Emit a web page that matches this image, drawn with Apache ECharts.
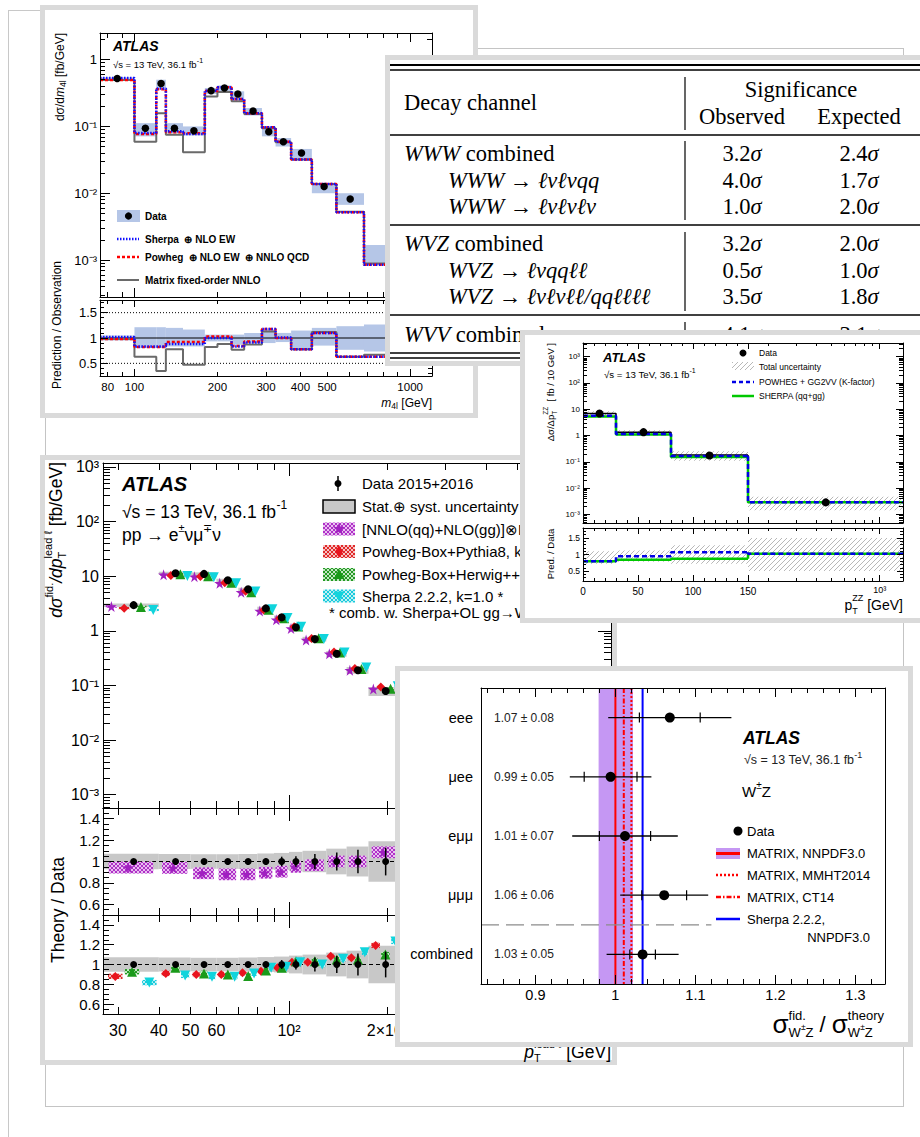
<!DOCTYPE html>
<html><head><meta charset="utf-8">
<script src="https://cdn.jsdelivr.net/npm/echarts@6/dist/echarts.min.js"></script>
<style>
html,body{margin:0;padding:0;background:#fff;width:920px;height:1137px;overflow:hidden}
body{position:relative}
.ch{position:absolute;left:0;top:0;width:920px;height:1137px}
.fr{position:absolute;box-sizing:border-box;border:5px solid #dadada;background:#fff}
.ln{position:absolute;background:#c8c8c8}
</style></head><body>
<div class="ln" style="left:8px;top:10px;width:1px;height:1127px"></div>
<div class="ln" style="left:8px;top:10px;width:35px;height:1px"></div>
<div style="position:absolute;left:45px;top:48px;width:859px;height:1059px;border:1px solid #c4c4c4;box-sizing:border-box"></div>
<div class="fr" style="left:40px;top:5px;width:438px;height:413px;z-index:1"></div>
<div class="ch" id="c1" style="z-index:2"></div>
<div class="fr" style="left:385px;top:55px;width:545px;height:311px;z-index:3"></div>
<div class="ch" id="c2" style="z-index:4"></div>
<div class="fr" style="left:40px;top:455px;width:577px;height:610px;z-index:5"></div>
<div class="ch" id="c3" style="z-index:6"></div>
<div class="fr" style="left:520px;top:330px;width:410px;height:293px;z-index:7"></div>
<div class="ch" id="c4" style="z-index:8"></div>
<div class="fr" style="left:395px;top:666px;width:518px;height:381px;z-index:9"></div>
<div class="ch" id="c5" style="z-index:10"></div>
<script>
// ================= DATA =================
// --- ZZ -> 4l, m4l distribution ---
const m4lEdges=[75,100,120,130,150,180,200,225,250,290,325,370,440,540,680,1200];
const m4lData=[0.52,0.094,0.44,0.094,0.086,0.343,0.376,0.305,0.17,0.083,0.059,0.040,0.0126,0.0082,0.0012];
const m4lBandLo=[0.50,0.071,0.376,0.079,0.073,0.305,0.335,0.25,0.146,0.071,0.05,0.033,0.010,0.0067,0.00084];
const m4lBandHi=[0.545,0.112,0.50,0.112,0.100,0.376,0.41,0.335,0.188,0.100,0.067,0.046,0.0141,0.010,0.00168];
const m4lSherpa=[0.53,0.080,0.37,0.085,0.077,0.343,0.385,0.257,0.158,0.097,0.059,0.032,0.0138,0.0052,0.00085];
const m4lPowheg=[0.495,0.077,0.36,0.082,0.079,0.34,0.385,0.257,0.158,0.097,0.059,0.032,0.0138,0.0052,0.00085];
const m4lMatrix=[0.495,0.059,0.158,0.075,0.041,0.28,0.327,0.237,0.153,0.094,0.058,0.032,0.0138,0.0053,0.00089];
const m4lRBandLo=[0.95,0.80,0.80,0.833,0.833,0.933,0.933,0.867,0.90,0.90,0.92,0.80,0.85,0.767,0.733];
const m4lRBandHi=[1.05,1.213,1.213,1.20,1.167,1.067,1.067,1.067,1.10,1.167,1.10,1.147,1.20,1.233,1.267];
const m4lRSherpa=[1.02,0.83,0.83,0.88,0.88,1.0,1.0,0.83,0.91,1.18,1.01,0.78,1.10,0.63,0.63];
const m4lRPowheg=[0.98,0.82,0.82,0.92,0.92,1.03,1.03,0.84,0.93,1.18,1.0,0.78,1.10,0.63,0.63];
const m4lRMatrix=[0.98,0.63,0.35,0.78,0.47,0.82,0.88,0.77,0.87,1.13,1.0,0.78,1.12,0.63,0.67];
const m4lXLabels=[80,100,200,300,400,500,1000];
const m4lYLabels=[1e-3,1e-2,1e-1,1];
const m4lRLabels=[0.5,1,1.5];

// --- triboson significance table ---
const tblChannels=['WWW combined','WWW → ℓνℓνqq','WWW → ℓνℓνℓν','WVZ combined','WVZ → ℓνqqℓℓ','WVZ → ℓνℓνℓℓ/qqℓℓℓℓ','WVV combined'];
const tblObserved=[3.2,4.0,1.0,3.2,0.5,3.5,4.1];
const tblExpected=[2.4,1.7,2.0,2.0,1.0,1.8,3.1];

// --- WW leading-lepton pT ---
const wwEdges=[27,40,50,60,70,80,90,100,110,130,150,175,220];
const wwData=[2.95,11.3,11.0,8.4,5.75,2.57,1.76,1.16,0.705,0.38,0.19,0.079];
const wwBand=[0.072,0.07,0.068,0.068,0.07,0.075,0.08,0.09,0.10,0.12,0.14,0.19];
const wwDataErr=[0.01,0.01,0.01,0.012,0.015,0.03,0.045,0.05,0.07,0.085,0.11,0.13];
const wwNNLO=[2.78,10.6,9.8,7.4,5.06,2.30,1.59,1.10,0.68,0.38,0.19,0.086];
const wwPy8=[2.6,10.3,9.9,7.56,5.27,2.40,1.70,1.19,0.72,0.41,0.203,0.094];
const wwHw=[2.73,10.9,10.0,7.56,5.08,2.42,1.70,1.20,0.73,0.40,0.20,0.087];
const wwSherpa=[2.41,10.1,9.6,7.4,5.23,2.49,1.72,1.19,0.705,0.40,0.213,0.097];
const wwRNNLO=[0.943,0.94,0.89,0.88,0.88,0.895,0.905,0.95,0.965,1.0,1.0,1.086];
const wwRPy8=[0.88,0.91,0.90,0.90,0.917,0.933,0.967,1.023,1.023,1.083,1.067,1.193];
const wwRHw=[0.927,0.967,0.91,0.90,0.883,0.94,0.967,1.033,1.033,1.05,1.05,1.10];
const wwRSherpa=[0.817,0.89,0.877,0.877,0.91,0.967,0.977,1.023,1.0,1.057,1.123,1.233];
const wwXLabels=[30,40,50,60,100,200];
const wwYLabels=[1e-3,1e-2,1e-1,1,10,100,1000];
const wwRLabels=[0.6,0.8,1,1.2,1.4];

// --- ZZ pT ---
const zzEdges=[0,30,80,150,1400];
const zzX=[15,55,115,460];
const zzData=[6.9,1.34,0.174,0.00286];
const zzNominal=[6.9,1.34,0.18,0.0029];
const zzPowheg=[5.6,1.15,0.165,0.0029];
const zzSherpa=[5.3,1.10,0.152,0.0029];
const zzUncLo=[5.6,1.10,0.11,0.00145];
const zzUncHi=[8.3,1.6,0.25,0.0047];
const zzRPowheg=[0.8,0.95,1.07,1.02];
const zzRSherpa=[0.8,0.84,0.87,1.02];
const zzRUncLo=[0.72,0.78,0.72,0.5];
const zzRUncHi=[1.1,1.12,1.28,1.5];
const zzXLabelsLin=[0,50,100,150];
const zzXLabelsLog=[1000];
const zzYLabels=[1e-3,1e-2,1e-1,1,10,100,1000];
const zzRLabels=[0.5,1,1.5];

// --- WZ fiducial cross-section ratios ---
const wzCats=['eee','μee','eμμ','μμμ','combined'];
const wzVal=[1.068,0.994,1.012,1.061,1.034];
const wzTot=[0.077,0.051,0.066,0.055,0.045];
const wzStat=[0.038,0.033,0.032,0.028,0.016];
const wzText=['1.07 ± 0.08','0.99 ± 0.05','1.01 ± 0.07','1.06 ± 0.06','1.03 ± 0.05'];
const wzMatrixNNPDF=1.0, wzMatrixBand=[0.979,1.022], wzMMHT=1.020, wzCT14=1.0105, wzSherpaNNPDF=1.034;
const wzXLabels=[0.9,1,1.1,1.2,1.3];

// ================= HELPERS =================
const FONT="'Liberation Sans', Arial, Helvetica, sans-serif";
const SERIF="'Liberation Serif', 'Times New Roman', serif";
const mctx=document.createElement('canvas').getContext('2d');
function fstr(size,o){return (o.italic?'italic ':'')+(o.bold?'bold ':'')+size+'px '+(o.family||FONT);}
function tw(t,f){mctx.font=f;return mctx.measureText(t).width;}
function layout(items,x0,base,out){
  let x=x0;
  for(const it of items){
    if(Array.isArray(it)){
      const t=it[0],s=it[1],o=Object.assign({},base,it[2]||{});
      const f=fstr(s,o);
      out.push({type:'text',x:x,y:(it[2]&&it[2].dy)||0,style:{text:t,font:f,fill:o.color||'#000',textAlign:'left',textVerticalAlign:'middle',align:'left',verticalAlign:'middle'}});
      x+=tw(t,f)+((it[2]&&it[2].sp)||0);
    } else if(it.stack){
      let mx=x;
      for(const row of it.stack){mx=Math.max(mx,layout(row,x,base,out));}
      x=mx;
    }
  }
  return x;
}
function rt(x,y,items,o){
  o=o||{};
  const ch=[];const w=layout(items,0,{italic:o.italic,bold:o.bold,family:o.family,color:o.color},ch);
  const off=o.align==='right'?-w:o.align==='center'?-w/2:0;
  ch.forEach(c=>{c.x+=off;});
  return {type:'group',x:x,y:y,rotation:o.rot||0,children:ch,z:100};
}
const SUPM={'-':'⁻','0':'⁰','1':'¹','2':'²','3':'³','4':'⁴','5':'⁵','6':'⁶','7':'⁷','8':'⁸','9':'⁹'};
const sup=s=>String(s).split('').map(c=>SUPM[c]||c).join('');
const fmtPow=v=>{const e=Math.round(Math.log10(v));return e===0?'1':e===1?'10':'10'+sup(e);};
function logMinor(min,max){const o=[];for(let e=-6;e<=5;e++)for(let k=2;k<10;k++){const v=k*Math.pow(10,e);if(v>=min&&v<=max)o.push(+v.toPrecision(3));}return o;}
function rng(a,b,s,skip){const o=[];for(let v=a;v<=b+1e-9;v+=s){const r=+v.toFixed(4);if(!skip||skip.every(q=>Math.abs(q-r)>1e-6))o.push(r);}return o;}
function A(o){
  return {type:o.type||'value',gridIndex:o.g,position:o.pos,min:o.min,max:o.max,logBase:10,inverse:!!o.inverse,
    axisLine:{show:o.line!==false,onZero:false,lineStyle:{color:'#000',width:o.lw||1}},
    axisTick:{show:!!o.ticks,inside:true,length:o.len||5,customValues:o.ticks,lineStyle:{color:'#000',width:1}},
    axisLabel:{show:!!o.labels,customValues:o.labels,formatter:o.fmt,margin:o.margin||4,color:'#000',fontSize:o.fs||11,fontFamily:FONT,hideOverlap:false,showMinLabel:true,showMaxLabel:true},
    splitLine:{show:false},splitArea:{show:false},minorTick:{show:false},axisPointer:{show:false},z:10};
}
function gridAxes(X,Y,g,xs,ys){
  const xi=X.length,yi=Y.length;
  for(const side of (xs.sides||['bottom','top'])){
    X.push(A({g:g,pos:side,type:xs.type,min:xs.min,max:xs.max,ticks:xs.major,len:xs.lenMaj,labels:side===xs.labelSide?xs.labels:null,fmt:xs.fmt,fs:xs.fs,margin:xs.margin,line:xs.line}));
    if(xs.minor)X.push(A({g:g,pos:side,type:xs.type,min:xs.min,max:xs.max,ticks:xs.minor,len:xs.lenMin,line:false}));
  }
  for(const side of (ys.sides||['left','right'])){
    Y.push(A({g:g,pos:side,type:ys.type,min:ys.min,max:ys.max,ticks:ys.major,len:ys.lenMaj,labels:side===ys.labelSide?ys.labels:null,fmt:ys.fmt,fs:ys.fs,margin:ys.margin,inverse:ys.inverse,line:ys.line}));
    if(ys.minor)Y.push(A({g:g,pos:side,type:ys.type,min:ys.min,max:ys.max,ticks:ys.minor,len:ys.lenMin,line:false,inverse:ys.inverse}));
  }
  return {xi:xi,yi:yi};
}
function rectS(ax,rects,style,z){
  return {type:'custom',xAxisIndex:ax.xi,yAxisIndex:ax.yi,z:z||2,silent:true,clip:false,animation:false,
    encode:{x:[0,1],y:[2,3]},data:rects,
    renderItem:function(p,api){
      const a=api.coord([api.value(0),api.value(2)]),b=api.coord([api.value(1),api.value(3)]);
      return {type:'rect',shape:{x:Math.min(a[0],b[0]),y:Math.min(a[1],b[1]),width:Math.abs(b[0]-a[0]),height:Math.abs(b[1]-a[1])},style:Object.assign({},style)};
    }};
}
function lineS(ax,pts,color,width,dash,z){
  return {type:'line',xAxisIndex:ax.xi,yAxisIndex:ax.yi,data:pts,symbol:'none',silent:true,z:z||3,animation:false,clip:false,
    lineStyle:{color:color,width:width,type:dash||'solid',cap:'butt'}};
}
function scatS(ax,pts,symbol,size,color,z,rot){
  return {type:'scatter',xAxisIndex:ax.xi,yAxisIndex:ax.yi,data:pts,symbol:symbol,symbolSize:size,symbolRotate:rot||0,
    itemStyle:{color:color,opacity:1},silent:true,z:z||6,animation:false};
}
function errS(ax,pts,color,width,z,dir){
  return {type:'custom',xAxisIndex:ax.xi,yAxisIndex:ax.yi,z:z||5,silent:true,clip:false,animation:false,data:pts,
    encode:dir==='h'?{y:0,x:[1,2]}:{x:0,y:[1,2]},
    renderItem:function(p,api){
      const a=dir==='h'?api.coord([api.value(1),api.value(0)]):api.coord([api.value(0),api.value(1)]);
      const b=dir==='h'?api.coord([api.value(2),api.value(0)]):api.coord([api.value(0),api.value(2)]);
      return {type:'line',shape:{x1:a[0],y1:a[1],x2:b[0],y2:b[1]},style:{stroke:color,lineWidth:width}};
    }};
}
function steps(edges,vals){const o=[];vals.forEach((v,i)=>{o.push([edges[i],v]);o.push([edges[i+1],v]);});return o;}
const lc=(lo,hi,f)=>Math.pow(10,Math.log10(lo)+f*(Math.log10(hi)-Math.log10(lo)));
function pat(color,kind,size,bg,lw){
  const c=document.createElement('canvas');c.width=c.height=size;const g=c.getContext('2d');
  if(bg){g.fillStyle=bg;g.fillRect(0,0,size,size);}
  g.strokeStyle=color;g.lineWidth=lw||1;g.beginPath();
  g.moveTo(-1,size+1);g.lineTo(size+1,-1);g.moveTo(-2,2);g.lineTo(2,-2);g.moveTo(size-2,size+2);g.lineTo(size+2,size-2);
  if(kind==='cross'){g.moveTo(-1,-1);g.lineTo(size+1,size+1);g.moveTo(-2,size-2);g.lineTo(2,size+2);g.moveTo(size-2,-2);g.lineTo(size+2,2);}
  g.stroke();
  return {image:c,repeat:'repeat'};
}
function starPts(cx,cy,r){const p=[];for(let i=0;i<10;i++){const a=-Math.PI/2+i*Math.PI/5,rr=i%2?r*0.45:r;p.push([cx+rr*Math.cos(a),cy+rr*Math.sin(a)]);}return p;}
const STAR='path://M50,0 L61,35 L98,35 L68,57 L79,91 L50,70 L21,91 L32,57 L2,35 L39,35 Z';
function G(type,shape,style,z){return {type:type,shape:shape,style:style,z:z||100};}
function mk(id,opt){
  try{
    const c=echarts.init(document.getElementById(id),null,{renderer:'svg',width:920,height:1137});
    opt.animation=false;opt.backgroundColor='transparent';opt.textStyle={fontFamily:FONT};
    c.setOption(opt);
  }catch(e){console.error(id+': '+e.message);}
}

// ================= PANEL 1: m4l =================
(function(){
  const X=[],Y=[],S=[];
  const xMaj=[100,1000],xMin=[80,90,200,300,400,500,600,700,800,900];
  const m=gridAxes(X,Y,0,{type:'log',min:75,max:1200,major:xMaj,minor:xMin,lenMaj:9,lenMin:5},
    {type:'log',min:2.8e-4,max:2.5,major:m4lYLabels,minor:logMinor(2.8e-4,2.5),lenMaj:10,lenMin:5,labels:m4lYLabels,labelSide:'left',fmt:fmtPow,fs:13,margin:3});
  const r=gridAxes(X,Y,1,{type:'log',min:75,max:1200,major:xMaj,minor:xMin,lenMaj:7,lenMin:4,labels:m4lXLabels,labelSide:'bottom',fmt:v=>String(v),fs:11.5,margin:5},
    {type:'value',min:0.25,max:1.75,major:m4lRLabels,minor:rng(0.3,1.7,0.1,m4lRLabels),lenMaj:8,lenMin:4,labels:m4lRLabels,labelSide:'left',fmt:v=>String(v),fs:13,margin:3});
  const BAND='#b5c6e7';
  S.push(rectS(m,m4lBandLo.map((v,i)=>[m4lEdges[i],m4lEdges[i+1],v,m4lBandHi[i]]),{fill:BAND},1));
  S.push(lineS(m,steps(m4lEdges,m4lMatrix),'#6a6a6a',2,'solid',3));
  S.push(lineS(m,steps(m4lEdges,m4lPowheg),'#ff0000',2.5,[3,2],4));
  S.push(lineS(m,steps(m4lEdges,m4lSherpa),'#1010ff',2.5,[1.5,1.5],4));
  S.push(scatS(m,m4lData.map((d,i)=>[Math.sqrt(m4lEdges[i]*m4lEdges[i+1]),d]),'circle',7.5,'#000',6));
  S.push(rectS(r,m4lRBandLo.map((v,i)=>[m4lEdges[i],m4lEdges[i+1],v,m4lRBandHi[i]]),{fill:BAND},1));
  S.push(lineS(r,[[75,1],[1200,1]],'#000',1,'solid',2));
  S.push(lineS(r,[[75,1.5],[1200,1.5]],'#000',1,[1,2],2));
  S.push(lineS(r,[[75,0.5],[1200,0.5]],'#000',1,[1,2],2));
  S.push(lineS(r,steps(m4lEdges,m4lRMatrix),'#6a6a6a',2,'solid',3));
  S.push(lineS(r,steps(m4lEdges,m4lRPowheg),'#ff0000',2.5,[3,2],4));
  S.push(lineS(r,steps(m4lEdges,m4lRSherpa),'#1010ff',2.5,[1.5,1.5],4));
  const gr=[
    rt(113,46,[['ATLAS',14]],{bold:true,italic:true}),
    rt(113,64,[['√s = 13 TeV, 36.1 fb',9.5],['-1',7,{dy:-4}]]),
    G('rect',{x:117,y:210,width:23,height:12},{fill:BAND}),
    G('circle',{cx:128.5,cy:216,r:3.6},{fill:'#000'}),
    rt(145,216,[['Data',10]],{bold:true}),
    G('line',{x1:117,y1:239,x2:139,y2:239},{stroke:'#1010ff',lineWidth:2.5,lineDash:[1.5,1.5]}),
    rt(145,239,[['Sherpa  ⊕ NLO EW',10]],{bold:true}),
    G('line',{x1:117,y1:257,x2:139,y2:257},{stroke:'#ff0000',lineWidth:2.5,lineDash:[3,2]}),
    rt(145,257,[['Powheg  ⊕ NLO EW  ⊕ NNLO QCD',10]],{bold:true}),
    G('line',{x1:117,y1:280,x2:139,y2:280},{stroke:'#6a6a6a',lineWidth:2}),
    rt(145,280,[['Matrix fixed-order NNLO',10]],{bold:true}),
    rt(60,33,[['dσ/d',12],['m',12,{italic:true}],['4l',8.5,{dy:3}],[' [fb/GeV]',12]],{rot:Math.PI/2,align:'right'}),
    rt(57,325,[['Prediction / Observation',12]],{rot:Math.PI/2,align:'center'}),
    rt(432,403,[['m',12,{italic:true}],['4l',8.5,{dy:3}],[' [GeV]',12]],{align:'right'})
  ];
  mk('c1',{grid:[{left:100,top:33,width:332,height:264},{left:100,top:300,width:332,height:76}],xAxis:X,yAxis:Y,series:S,graphic:gr});
})();

// ================= PANEL 2: table =================
(function(){
  const gr=[];
  const L=(y,w)=>gr.push(G('line',{x1:390,y1:y,x2:925,y2:y},{stroke:'#000',lineWidth:w}));
  L(65,2);L(70,1.3);L(135,1.3);L(225,1.3);L(315,1.3);L(353,1.3);L(358,1.3);
  [[77,130],[141,220],[232,311],[322,360]].forEach(s=>gr.push(G('line',{x1:685,y1:s[0],x2:685,y2:s[1]},{stroke:'#000',lineWidth:1.2})));
  const F={family:SERIF};
  const SZ=22.5;
  gr.push(rt(404,102,[['Decay channel',SZ]],F));
  gr.push(rt(801,89,[['Significance',SZ]],Object.assign({align:'center'},F)));
  gr.push(rt(742,116,[['Observed',SZ]],Object.assign({align:'center'},F)));
  gr.push(rt(859,116,[['Expected',SZ]],Object.assign({align:'center'},F)));
  const rowY=[153,180,206,243,270,296,334];
  tblChannels.forEach((c,i)=>{
    let items;
    if(c.endsWith(' combined')){items=[[c.replace(' combined',''),SZ,{italic:true}],[' combined',SZ]];}
    else{const p=c.split(' → ');items=[[p[0]+' ',SZ,{italic:true}],['→ ',SZ],[p[1],SZ,{italic:true}]];}
    const indent=c.endsWith(' combined')?404:448;
    gr.push(rt(indent,rowY[i],items,F));
    gr.push(rt(742,rowY[i],[[tblObserved[i].toFixed(1),SZ],['σ',SZ,{italic:true}]],Object.assign({align:'center'},F)));
    gr.push(rt(859,rowY[i],[[tblExpected[i].toFixed(1),SZ],['σ',SZ,{italic:true}]],Object.assign({align:'center'},F)));
  });
  mk('c2',{graphic:gr});
})();

// ================= PANEL 3: WW =================
(function(){
  const X=[],Y=[],S=[];
  const xMaj=[100],xMin=[30,40,50,60,70,80,90,200,300,400,500,600,700,800,900];
  const xs={type:'log',min:27,max:965,major:xMaj,minor:xMin,lenMaj:13,lenMin:7};
  const rY={type:'value',min:0.5,max:1.5,major:wwRLabels,minor:rng(0.55,1.45,0.05,wwRLabels),lenMaj:11,lenMin:6,labels:wwRLabels,labelSide:'left',fmt:v=>String(v),fs:15,margin:3};
  const m=gridAxes(X,Y,0,xs,{type:'log',min:5.7e-4,max:1180,major:wwYLabels,minor:logMinor(5.7e-4,1180),lenMaj:13,lenMin:7,labels:wwYLabels,labelSide:'left',fmt:fmtPow,fs:16,margin:4});
  const r1=gridAxes(X,Y,1,xs,rY);
  const r2=gridAxes(X,Y,2,Object.assign({},xs,{labels:wwXLabels,labelSide:'bottom',fmt:v=>v===100?'10²':v===200?'2×10²':String(v),fs:16,margin:8}),rY);
  const C={nnlo:'#a020c0',py8:'#e8141e',hw:'#1a9a1a',sh:'#10d4dc'};
  const P={nnlo:pat('#b030c8','cross',4,'#e8bff0'),py8:pat('#e02a2a','cross',4,'#f6c2c2'),hw:pat('#249a24','cross',4,'#c2e6c2'),sh:pat('#18cadc','cross',4,'#bff0f4')};
  const bins=wwData.map((d,i)=>[wwEdges[i],wwEdges[i+1]]);
  const dataX=bins.map(b=>(b[0]+b[1])/2);
  S.push(rectS(m,wwData.map((d,i)=>[bins[i][0],bins[i][1],d*(1-wwBand[i]),d*(1+wwBand[i])]),{fill:'#c8c8c8'},1));
  const mainPred=[[wwNNLO,0.15,'nnlo',STAR,11,0],[wwPy8,0.38,'py8','diamond',9,0],[wwHw,0.68,'hw','triangle',10,0],[wwSherpa,0.9,'sh','triangle',10,180]];
  mainPred.forEach(q=>{
    S.push(rectS(m,q[0].map((v,i)=>[lc(bins[i][0],bins[i][1],q[1]-0.1),lc(bins[i][0],bins[i][1],q[1]+0.1),v*0.95,v*1.05]),{fill:P[q[2]]},2));
    S.push(scatS(m,q[0].map((v,i)=>[lc(bins[i][0],bins[i][1],q[1]),v]),q[3],q[4],C[q[2]],4,q[5]));
  });
  S.push(errS(m,wwData.map((d,i)=>[dataX[i],d*(1-wwDataErr[i]),d*(1+wwDataErr[i])]),'#000',1.5,5));
  S.push(scatS(m,wwData.map((d,i)=>[dataX[i],d]),'circle',8,'#000',6));
  S.push(rectS(r1,wwBand.map((e,i)=>[bins[i][0],bins[i][1],1-e,1+e]),{fill:'#c8c8c8'},1));
  S.push(lineS(r1,[[27,1],[965,1]],'#000',1,[4,3],2));
  S.push(rectS(r1,wwRNNLO.map((v,i)=>[lc(bins[i][0],bins[i][1],0.1),lc(bins[i][0],bins[i][1],0.9),v-0.055,v+0.055]),{fill:P.nnlo},3));
  S.push(scatS(r1,wwRNNLO.map((v,i)=>[lc(bins[i][0],bins[i][1],0.45),v]),STAR,11,C.nnlo,4));
  S.push(errS(r1,wwDataErr.map((e,i)=>[dataX[i],1-e,1+e]),'#000',1.5,5));
  S.push(scatS(r1,dataX.map(x=>[x,1]),'circle',7,'#000',6));
  S.push(rectS(r2,wwBand.map((e,i)=>[bins[i][0],bins[i][1],1-e,1+e]),{fill:'#c8c8c8'},1));
  S.push(lineS(r2,[[27,1],[965,1]],'#000',1,[4,3],2));
  [[wwRPy8,0.22,'py8','diamond',9,0],[wwRHw,0.52,'hw','triangle',10,0],[wwRSherpa,0.83,'sh','triangle',10,180]].forEach(q=>{
    S.push(rectS(r2,q[0].map((v,i)=>[lc(bins[i][0],bins[i][1],q[1]-0.13),lc(bins[i][0],bins[i][1],q[1]+0.13),v-0.027,v+0.027]),{fill:P[q[2]]},3));
    S.push(scatS(r2,q[0].map((v,i)=>[lc(bins[i][0],bins[i][1],q[1]),v]),q[3],q[4],C[q[2]],4,q[5]));
  });
  S.push(errS(r2,wwDataErr.map((e,i)=>[dataX[i],1-e,1+e]),'#000',1.5,5));
  S.push(scatS(r2,dataX.map(x=>[x,1]),'circle',7,'#000',6));
  const LF=15;
  const gr=[
    rt(122,484,[['ATLAS',20]],{bold:true,italic:true}),
    rt(122,512,[['√s = 13 TeV, 36.1 fb',17.5],['-1',12,{dy:-7}]]),
    rt(122,535,[['pp → e',17.5],['±',11,{dy:-7}],['νμ',17.5],['∓',11,{dy:-7}],['ν',17.5]]),
    G('line',{x1:338,y1:476,x2:338,y2:491},{stroke:'#000',lineWidth:1.5}),
    G('circle',{cx:338,cy:483.5,r:3.5},{fill:'#000'}),
    rt(362,483.5,[['Data 2015+2016',LF]]),
    G('rect',{x:323,y:500,width:32,height:13},{fill:'#c8c8c8',stroke:'#000',lineWidth:1.5}),
    rt(362,506.5,[['Stat.⊕ syst. uncertainty',LF]]),
    G('rect',{x:323,y:522.5,width:32,height:13},{fill:P.nnlo}),
    G('polygon',{points:starPts(339,529,6)},{fill:C.nnlo}),
    rt(362,529,[['[NNLO(qq)+NLO(gg)]⊗NLO EW',LF]]),
    G('rect',{x:323,y:545,width:32,height:13},{fill:P.py8}),
    G('polygon',{points:[[339,545.5],[343,551.5],[339,557.5],[335,551.5]]},{fill:C.py8}),
    rt(362,551.5,[['Powheg-Box+Pythia8, k=1.0 *',LF]]),
    G('rect',{x:323,y:568,width:32,height:13},{fill:P.hw}),
    G('polygon',{points:[[339,569],[344.5,579],[333.5,579]]},{fill:C.hw}),
    rt(362,574,[['Powheg-Box+Herwig++, k=1.0 *',LF]]),
    G('rect',{x:323,y:589.5,width:32,height:13},{fill:P.sh}),
    G('polygon',{points:[[339,601.5],[344.5,591.5],[333.5,591.5]]},{fill:C.sh}),
    rt(362,596,[['Sherpa 2.2.2, k=1.0 *',LF]]),
    rt(329,612.5,[['* comb. w. Sherpa+OL gg→WW',LF]]),
    rt(56,462,[['dσ',17.5,{italic:true}],['fid.',11,{dy:-7}],['/dp',17.5,{italic:true}],{stack:[[['lead ℓ',11,{dy:-8}]],[['T',11,{dy:6}]]]},[' [fb/GeV]',17.5]],{rot:Math.PI/2,align:'right'}),
    rt(58,910,[['Theory / Data',17.5]],{rot:Math.PI/2,align:'center'}),
    rt(611,1052,[['p',17.5,{italic:true}],{stack:[[['lead ℓ',11,{dy:-8}]],[['T',11,{dy:6}]]]},[' [GeV]',17.5]],{align:'right'})
  ];
  mk('c3',{grid:[{left:103,top:463,width:508,height:345},{left:103,top:808,width:508,height:107},{left:103,top:915,width:508,height:99}],xAxis:X,yAxis:Y,series:S,graphic:gr});
})();

// ================= PANEL 4: ZZ pT =================
(function(){
  const X=[],Y=[],S=[];
  const linX={type:'value',min:0,max:150,major:[0,50,100,150],minor:rng(10,140,10,[50,100]),lenMaj:6,lenMin:3};
  const logX={type:'log',min:150,max:1400,major:[1000],minor:[200,300,400,500,600,700,800,900],lenMaj:6,lenMin:3};
  const yMain={type:'log',min:4.7e-4,max:3300,major:zzYLabels,minor:logMinor(4.7e-4,3300),lenMaj:7,lenMin:4,labels:zzYLabels,labelSide:'left',fmt:fmtPow,fs:8,margin:3};
  const yR={type:'value',min:0.2,max:1.8,major:zzRLabels,minor:rng(0.3,1.7,0.1,zzRLabels),lenMaj:6,lenMin:3,labels:zzRLabels,labelSide:'left',fmt:v=>String(v),fs:8.5,margin:3};
  const a=gridAxes(X,Y,0,linX,Object.assign({},yMain,{sides:['left']}));
  const b=gridAxes(X,Y,1,logX,Object.assign({},yMain,{sides:['right']}));
  const ra=gridAxes(X,Y,2,Object.assign({},linX,{labels:zzXLabelsLin,labelSide:'bottom',fmt:v=>String(v),fs:10,margin:5}),Object.assign({},yR,{sides:['left']}));
  const rb=gridAxes(X,Y,3,Object.assign({},logX,{labels:zzXLabelsLog,labelSide:'bottom',fmt:fmtPow,fs:9,margin:4}),Object.assign({},yR,{sides:['right']}));
  const H=pat('#b8b8b8','diag',5,null,1);
  const idxA=[0,1,2],idxB=[3];
  const sub=(arr,ix)=>ix.map(i=>arr[i]);
  S.push(rectS(a,idxA.map(i=>[zzEdges[i],zzEdges[i+1],zzUncLo[i],zzUncHi[i]]),{fill:H},1));
  S.push(rectS(b,idxB.map(i=>[zzEdges[i],zzEdges[i+1],zzUncLo[i],zzUncHi[i]]),{fill:H},1));
  const addSteps=(axA,axB,vals,color,w,dash,z)=>{
    S.push(lineS(axA,steps(zzEdges.slice(0,4),sub(vals,idxA)),color,w,dash,z));
    S.push(lineS(axB,[[150,vals[2]],[150,vals[3]],[1400,vals[3]]],color,w,dash,z));
  };
  addSteps(a,b,zzNominal,'#000',1.5,'solid',2);
  addSteps(a,b,zzSherpa,'#00c800',2.5,'solid',3);
  addSteps(a,b,zzPowheg,'#0000e6',2.5,[5,3],4);
  S.push(scatS(a,idxA.map(i=>[zzX[i],zzData[i]]),'circle',8,'#000',6));
  S.push(scatS(b,idxB.map(i=>[zzX[i],zzData[i]]),'circle',8,'#000',6));
  S.push(rectS(ra,idxA.map(i=>[zzEdges[i],zzEdges[i+1],zzRUncLo[i],zzRUncHi[i]]),{fill:H},1));
  S.push(rectS(rb,idxB.map(i=>[zzEdges[i],zzEdges[i+1],zzRUncLo[i],zzRUncHi[i]]),{fill:H},1));
  addSteps(ra,rb,zzRSherpa,'#00c800',2.5,'solid',3);
  addSteps(ra,rb,zzRPowheg,'#0000e6',2.5,[5,3],4);
  const gr=[
    rt(603,357,[['ATLAS',13]],{bold:true,italic:true}),
    rt(604,374,[['√s = 13 TeV, 36.1 fb',9.7],['-1',7,{dy:-4}]]),
    G('circle',{cx:743,cy:353,r:3.5},{fill:'#000'}),
    rt(759,353,[['Data',8.5]]),
    G('rect',{x:732,y:362,width:22,height:8},{fill:H}),
    rt(759,366.5,[['Total uncertainty',8.5]]),
    G('line',{x1:732,y1:382,x2:754,y2:382},{stroke:'#0000e6',lineWidth:2.5,lineDash:[4,3]}),
    rt(759,382,[['POWHEG + GG2VV (K-factor)',8.5]]),
    G('line',{x1:732,y1:396,x2:754,y2:396},{stroke:'#00c800',lineWidth:2.5}),
    rt(759,396,[['SHERPA (qq+gg)',8.5]]),
    rt(550,343,[['Δσ/Δp',9.5],{stack:[[['ZZ',6.5,{dy:-5}]],[['T',6.5,{dy:4}]]]},['  [ fb / 10 GeV ]',9.5]],{rot:Math.PI/2,align:'right'}),
    rt(550,554,[['Pred. / Data',9.5]],{rot:Math.PI/2,align:'center'}),
    rt(903,605,[['p',14],{stack:[[['ZZ',9,{dy:-7}]],[['T',9,{dy:6}]]]},[' [GeV]',14]],{align:'right'})
  ];
  mk('c4',{grid:[{left:583,top:343,width:165,height:180},{left:748,top:343,width:155,height:180},{left:583,top:528,width:165,height:53},{left:748,top:528,width:155,height:53}],xAxis:X,yAxis:Y,series:S,graphic:gr});
})();

// ================= PANEL 5: WZ =================
(function(){
  const X=[],Y=[],S=[];
  const g=gridAxes(X,Y,0,{type:'value',min:0.832,max:1.337,major:wzXLabels,minor:rng(0.84,1.32,0.02,wzXLabels),lenMaj:9,lenMin:5,labels:wzXLabels,labelSide:'bottom',fmt:v=>String(v),fs:14.5,margin:3},
    {type:'value',min:-0.5,max:4.5,inverse:true,labels:[0,1,2,3,4],labelSide:'left',fmt:v=>wzCats[Math.round(v)],fs:14.5,margin:8});
  S.push(rectS(g,[[wzMatrixBand[0],wzMatrixBand[1],-0.5,4.5]],{fill:'#c597f3'},1));
  S.push(lineS(g,[[wzMatrixNNPDF,-0.5],[wzMatrixNNPDF,4.5]],'#ff0000',2,'solid',2));
  S.push(lineS(g,[[wzCT14,-0.5],[wzCT14,4.5]],'#ff0000',2,[5,2,1.5,2],2));
  S.push(lineS(g,[[wzMMHT,-0.5],[wzMMHT,4.5]],'#ff0000',2,[2,2],2));
  S.push(lineS(g,[[wzSherpaNNPDF,-0.5],[wzSherpaNNPDF,4.5]],'#0000ff',2,'solid',2));
  S.push(lineS(g,[[0.832,3.5],[1.12,3.5]],'#8c8c8c',1.2,[18,7],2));
  S.push(errS(g,wzVal.map((v,i)=>[i,v-wzTot[i],v+wzTot[i]]),'#000',1.3,4,'h'));
  S.push({type:'custom',xAxisIndex:g.xi,yAxisIndex:g.yi,z:4,silent:true,clip:false,animation:false,encode:{y:0,x:[1,2]},
    data:wzVal.map((v,i)=>[i,v-wzStat[i],v+wzStat[i]]),
    renderItem:function(p,api){
      const a=api.coord([api.value(1),api.value(0)]),b=api.coord([api.value(2),api.value(0)]);
      return {type:'group',children:[
        {type:'line',shape:{x1:a[0],y1:a[1]-5,x2:a[0],y2:a[1]+5},style:{stroke:'#000',lineWidth:1.2}},
        {type:'line',shape:{x1:b[0],y1:b[1]-5,x2:b[0],y2:b[1]+5},style:{stroke:'#000',lineWidth:1.2}}]};
    }});
  S.push(scatS(g,wzVal.map((v,i)=>[v,i]),'circle',10,'#000',6));
  const gr=[];
  wzText.forEach((t,i)=>gr.push(rt(494,688+(i+0.5)*296/5,[[t,12]],{color:'#222'})));
  gr.push(rt(743,738,[['ATLAS',17.5]],{bold:true,italic:true}));
  gr.push(rt(744,760,[['√s = 13 TeV, 36.1 fb',12.5],['-1',9,{dy:-5}]],{color:'#222'}));
  gr.push(rt(742,791,[['W',15],['±',10,{dy:-6}],['Z',15]]));
  gr.push(G('circle',{cx:738,cy:831,r:4.5},{fill:'#000'}));
  gr.push(rt(747,831,[['Data',13]]));
  gr.push(G('rect',{x:716,y:848,width:24,height:11},{fill:'#c597f3'}));
  gr.push(G('line',{x1:716,y1:853.5,x2:740,y2:853.5},{stroke:'#ff0000',lineWidth:3}));
  gr.push(rt(747,853.5,[['MATRIX, NNPDF3.0',13]]));
  gr.push(G('line',{x1:716,y1:875,x2:740,y2:875},{stroke:'#ff0000',lineWidth:2.5,lineDash:[2,2]}));
  gr.push(rt(747,875,[['MATRIX, MMHT2014',13]]));
  gr.push(G('line',{x1:716,y1:897,x2:740,y2:897},{stroke:'#ff0000',lineWidth:2.5,lineDash:[5,2,1.5,2]}));
  gr.push(rt(747,897,[['MATRIX, CT14',13]]));
  gr.push(G('line',{x1:716,y1:919,x2:740,y2:919},{stroke:'#0000ff',lineWidth:2.5}));
  gr.push(rt(747,919,[['Sherpa 2.2.2,',13]]));
  gr.push(rt(870,937,[['NNPDF3.0',13]],{align:'right'}));
  gr.push(rt(884,1024,[['σ',26],{stack:[[['fid.',13,{dy:-9}]],[['W',13,{dy:8}],['±',8.5,{dy:3}],['Z',13,{dy:8}]]]},[' / ',22],['σ',26],{stack:[[['theory',13,{dy:-9}]],[['W',13,{dy:8}],['±',8.5,{dy:3}],['Z',13,{dy:8}]]]}],{align:'right'}));
  mk('c5',{grid:[{left:481,top:688,width:404,height:296}],xAxis:X,yAxis:Y,series:S,graphic:gr});
})();
</script>
</body></html>
